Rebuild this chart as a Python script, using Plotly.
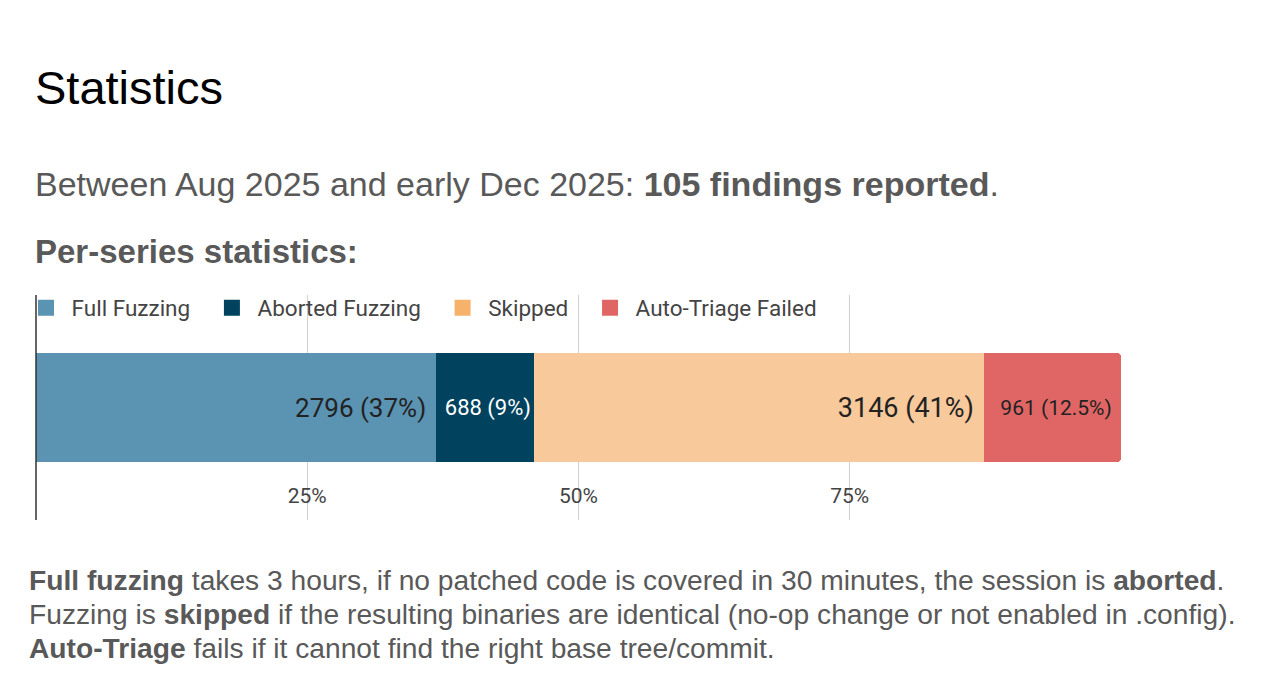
import plotly.graph_objects as go

categories = ["Full Fuzzing", "Aborted Fuzzing", "Skipped", "Auto-Triage Failed"]
counts = [2796, 688, 3146, 961]
pct_labels = ["37%", "9%", "41%", "12.5%"]
colors = ["#5b93b2", "#01435f", "#f8c99b", "#e06666"]
legend_colors = ["#5b93b2", "#01435f", "#f6b26b", "#e06666"]
text_colors = ["#222222", "#ffffff", "#222222", "#222222"]
text_sizes = [26, 22, 27, 21]
label_pad = [1, 0, 1, 1]
tick_vals = [25, 50, 75]
tick_text = ["25%", "50%", "75%"]

total = sum(counts)
OFF = 8  # page body margin
W, H = 1280 - 2 * OFF, 682 - 2 * OFF

def px_x(x):
    return (x - OFF) / W

def py(y):
    return 1 - (y - OFF) / H

NB = "\u00a0"

fig = go.Figure()
for cat, c, p, col, tc, ts, pad in zip(categories, counts, pct_labels, colors, text_colors, text_sizes, label_pad):
    fig.add_trace(go.Bar(
        x=[c / total * 100], y=[0], orientation="h", name=cat, showlegend=False,
        marker=dict(color=col, line=dict(width=0)),
        text=[f"{c} ({p})" + NB * pad], textposition="inside", insidetextanchor="end",
        textfont=dict(color=tc, size=ts, family="Roboto"),
        width=0.97, hoverinfo="skip",
    ))
for cat, lc in zip(categories, legend_colors):
    fig.add_trace(go.Scatter(
        x=[None], y=[None], mode="markers", name=NB + cat + NB * 3,
        marker=dict(symbol="square", size=16, color=lc), hoverinfo="skip",
    ))

fig.update_layout(
    width=W, height=H, barmode="stack", barcornerradius=4,
    paper_bgcolor="white", plot_bgcolor="white",
    margin=dict(l=0, r=0, t=0, b=0),
    font=dict(family="Roboto", color="#444444"),
    showlegend=True,
    legend=dict(orientation="h", x=px_x(26), y=py(308), xanchor="left", yanchor="middle",
                font=dict(size=22.5, color="#444444", family="Roboto"),
                bgcolor="rgba(0,0,0,0)", itemwidth=30, traceorder="normal"),
    xaxis=dict(domain=[px_x(36), px_x(1121)], range=[0, 100], tickvals=tick_vals, ticktext=tick_text,
               showgrid=True, gridcolor="#d0d0d0", gridwidth=1, zeroline=False, showline=False,
               ticklabelposition="inside", ticklabelstandoff=10,
               tickfont=dict(size=21, color="#444444", family="Roboto"), fixedrange=True),
    yaxis=dict(domain=[py(520), py(295)], range=[-1, 1], showticklabels=False, showgrid=False,
               zeroline=False, showline=False, fixedrange=True),
    shapes=[dict(type="line", xref="paper", yref="paper", x0=px_x(36), x1=px_x(36),
                 y0=py(520), y1=py(295), line=dict(color="#333333", width=1.5))],
)

ann_font = "Liberation Sans, Arial, sans-serif"
anns = [
    dict(text="Statistics", x=33, y=88, size=47, color="#000000"),
    dict(text="Between Aug 2025 and early Dec 2025: <b>105 findings reported</b>.", x=33, y=184, size=34, color="#595959"),
    dict(text="<b>Per-series statistics:</b>", x=33, y=252, size=33, color="#595959"),
    dict(text="<b>Full fuzzing</b> takes 3 hours, if no patched code is covered in 30 minutes, the session is <b>aborted</b>.", x=27, y=580, size=28.2, color="#595959"),
    dict(text="Fuzzing is <b>skipped</b> if the resulting binaries are identical (no-op change or not enabled in .config).", x=27, y=614, size=28.2, color="#595959"),
    dict(text="<b>Auto-Triage</b> fails if it cannot find the right base tree/commit.", x=27, y=648, size=28.2, color="#595959"),
]
for a in anns:
    fig.add_annotation(text=a["text"], x=px_x(a["x"]), y=py(a["y"]), xref="paper", yref="paper",
                       xanchor="left", yanchor="middle", showarrow=False,
                       font=dict(size=a["size"], color=a["color"], family=ann_font))

fig.write_html("out.html")
